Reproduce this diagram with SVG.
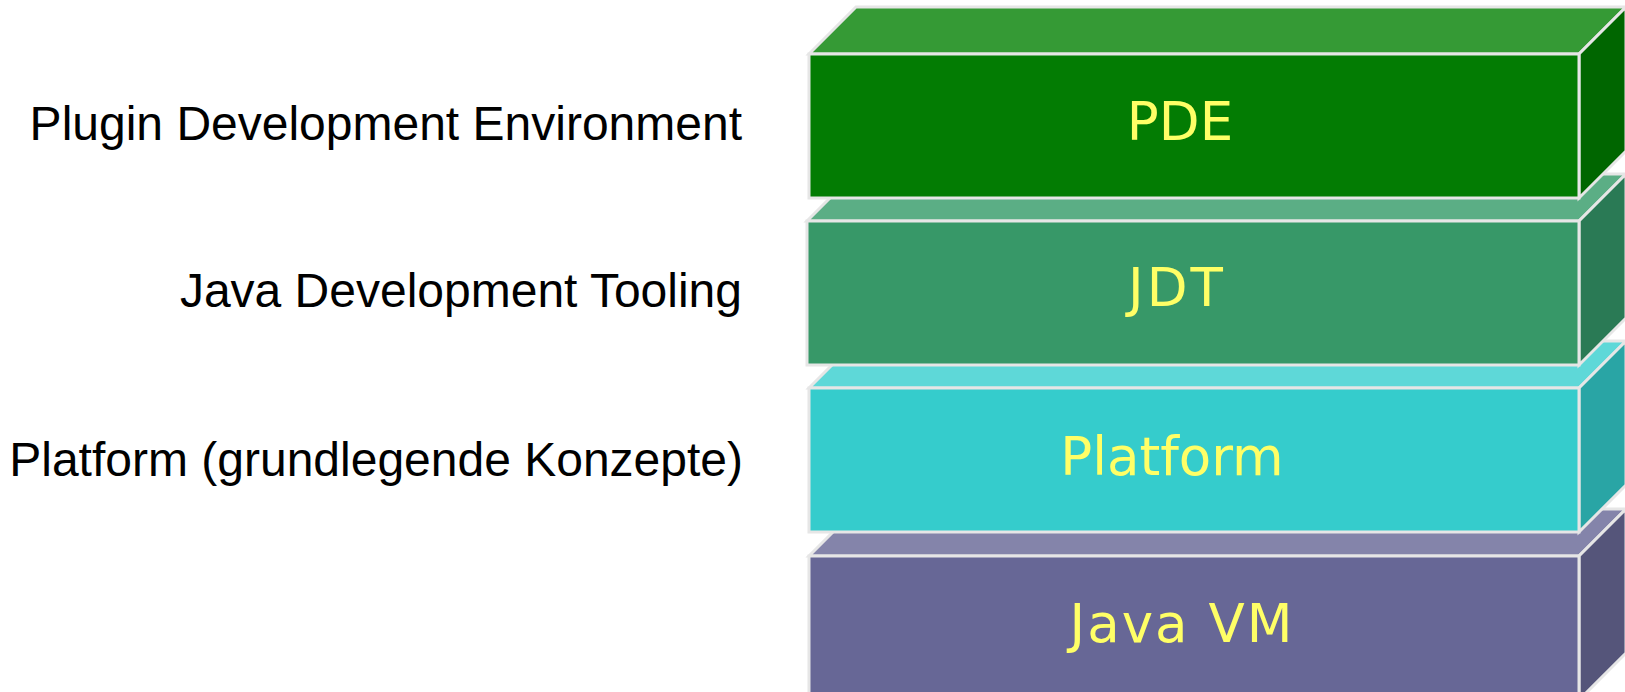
<svg xmlns="http://www.w3.org/2000/svg" width="1625" height="692" viewBox="0 0 1625 692">
  <style>
    .edge { stroke: #e6e6e6; stroke-width: 3; stroke-linejoin: miter; }
    .lbl { font-family: "DejaVu Sans", Verdana, sans-serif; font-size: 53px; fill: #ffff66; text-anchor: middle; }
    .side-lbl { font-family: "Liberation Sans", Arial, sans-serif; font-size: 48px; fill: #000000; text-anchor: end; }
  </style>
  <rect width="1625" height="692" fill="#ffffff"/>

  <g id="javavm">
    <polygon class="edge" fill="#8484aa" points="809,556 856,509 1626,509 1579,556"/>
    <polygon class="edge" fill="#55557a" points="1579,556 1626,509 1626,653 1579,700"/>
    <rect class="edge" fill="#676796" x="809" y="556" width="770" height="144"/>
    <text class="lbl" x="1182" y="642" letter-spacing="2">Java VM</text>
  </g>

  <g id="platform">
    <polygon class="edge" fill="#5ed8d8" points="809,388 856,341 1626,341 1579,388"/>
    <polygon class="edge" fill="#29a5a5" points="1579,388 1626,341 1626,485 1579,532"/>
    <rect class="edge" fill="#35cccc" x="809" y="388" width="770" height="144"/>
    <text class="lbl" x="1172" y="475">Platform</text>
  </g>

  <g id="jdt">
    <polygon class="edge" fill="#5bae85" points="807,221 854,174 1626,174 1579,221"/>
    <polygon class="edge" fill="#2a7a55" points="1579,221 1626,174 1626,318 1579,365"/>
    <rect class="edge" fill="#379868" x="807" y="221" width="772" height="144"/>
    <text class="lbl" x="1177" y="306" letter-spacing="3">JDT</text>
  </g>

  <g id="pde">
    <polygon class="edge" fill="#359a35" points="809,54 856,7 1626,7 1579,54"/>
    <polygon class="edge" fill="#006600" points="1579,54 1626,7 1626,151 1579,198"/>
    <rect class="edge" fill="#037c03" x="809" y="54" width="770" height="144"/>
    <text class="lbl" x="1180" y="140">PDE</text>
  </g>

  <g id="labels">
    <text class="side-lbl" x="742" y="140">Plugin Development Environment</text>
    <text class="side-lbl" x="742" y="307">Java Development Tooling</text>
    <text class="side-lbl" x="743" y="476">Platform (grundlegende Konzepte)</text>
  </g>
</svg>
